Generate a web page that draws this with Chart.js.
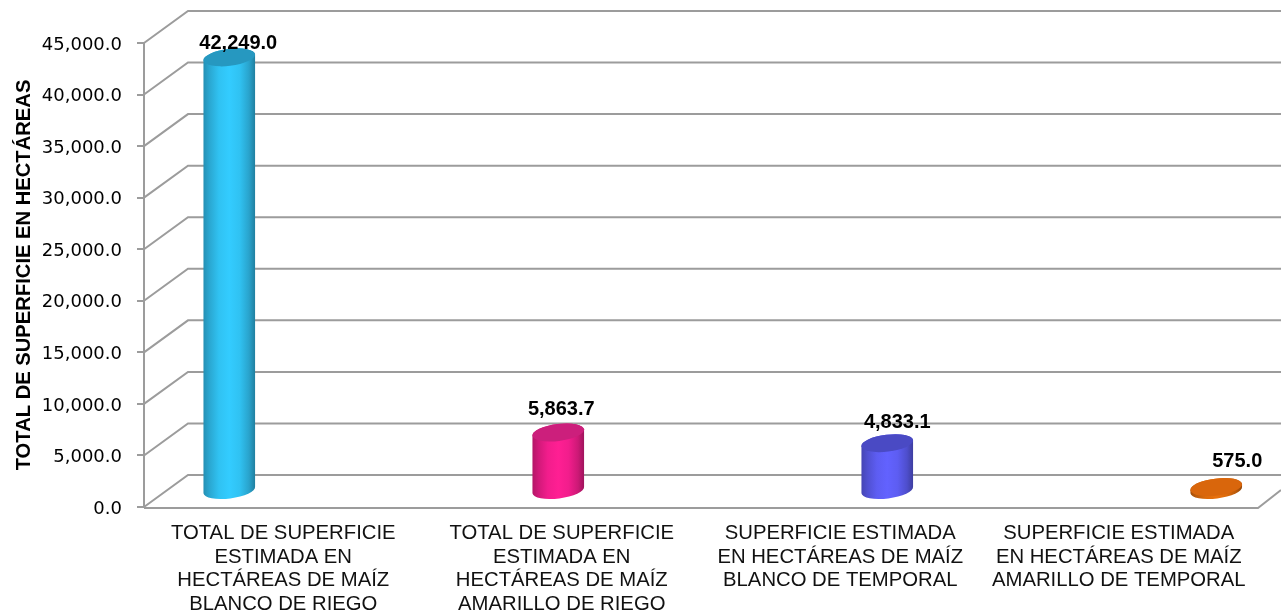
<!DOCTYPE html>
<html><head><meta charset="utf-8">
<style>html,body{margin:0;padding:0;background:#fff}#w{width:1281px;height:613px;position:relative}</style>
<script src="https://cdn.jsdelivr.net/npm/chart.js@4"></script>
</head><body><div id="w"><canvas id="c"></canvas></div>
<script>
const categories = [
  ['TOTAL DE SUPERFICIE','ESTIMADA EN','HECTÁREAS DE MAÍZ','BLANCO DE RIEGO'],
  ['TOTAL DE SUPERFICIE','ESTIMADA EN','HECTÁREAS DE MAÍZ','AMARILLO DE RIEGO'],
  ['SUPERFICIE ESTIMADA','EN HECTÁREAS DE MAÍZ','BLANCO DE TEMPORAL'],
  ['SUPERFICIE ESTIMADA','EN HECTÁREAS DE MAÍZ','AMARILLO DE TEMPORAL']
];
const hectares = [42249.0, 5863.7, 4833.1, 575.0];
const barColors = ['#33CCFF', '#FF1F93', '#6262FF', '#E8700C'];
const topColors = ['#2698C0', '#CC1F7C', '#4A4AC4', '#D9660C'];
const axisTitle = 'TOTAL DE SUPERFICIE EN HECTÁREAS';
const GRID = '#9C9C9C';
const DEPTH = {dx: 44, dy: -32, mid: -16, capDrop: 2, spread: 1.1813, spreadCenter: 581};
const fmt = v => v.toLocaleString('en-US', {minimumFractionDigits: 1, maximumFractionDigits: 1});

function shade(hex, k) {
  const n = parseInt(hex.slice(1), 16);
  const c = s => Math.round(((n >> s) & 255) * k);
  return `rgb(${c(16)},${c(8)},${c(0)})`;
}

class CylinderElement extends Chart.BarElement {
  draw(ctx) {
    const {x, y, base, width} = this.getProps(['x', 'y', 'base', 'width'], false);
    const col = this.options.backgroundColor;
    const cx = DEPTH.spreadCenter + (x - DEPTH.spreadCenter) * DEPTH.spread;
    const top = y + DEPTH.mid + DEPTH.capDrop, bot = base + DEPTH.mid;
    const rx = width / 2, ry = 8.5, rot = -7 * Math.PI / 180;
    const g = ctx.createLinearGradient(cx - rx, 0, cx + rx, 0);
    g.addColorStop(0, shade(col, 0.7));
    g.addColorStop(0.12, shade(col, 0.82));
    g.addColorStop(0.3, shade(col, 0.95));
    g.addColorStop(0.5, shade(col, 1));
    g.addColorStop(0.7, shade(col, 0.95));
    g.addColorStop(0.88, shade(col, 0.8));
    g.addColorStop(1, shade(col, 0.62));
    ctx.save();
    ctx.beginPath();
    ctx.ellipse(cx, bot, rx, ry, rot, 0, Math.PI);
    ctx.ellipse(cx, top, rx, ry, rot, Math.PI, 0);
    ctx.closePath();
    ctx.fillStyle = g;
    ctx.fill();
    ctx.beginPath();
    ctx.ellipse(cx, top, rx, ry, rot, 0, Math.PI * 2);
    ctx.fillStyle = this.options.borderColor;
    ctx.fill();
    ctx.restore();
  }
}
CylinderElement.id = 'cylinder';
CylinderElement.defaults = {};
class CylinderController extends Chart.BarController {}
CylinderController.id = 'cylinder';
CylinderController.defaults = {dataElementType: 'cylinder'};
CylinderController.overrides = Chart.BarController.overrides;
Chart.register(CylinderElement, CylinderController);

const room3d = {
  id: 'room3d',
  beforeDatasetsDraw(chart) {
    const {ctx, chartArea: a, scales: {y}} = chart;
    ctx.save();
    ctx.strokeStyle = GRID;
    ctx.lineWidth = 2;
    const W = chart.width;
    y.ticks.forEach(t => {
      const py = y.getPixelForValue(t.value);
      ctx.beginPath();
      ctx.moveTo(a.left, py);
      ctx.lineTo(a.left + DEPTH.dx, py + DEPTH.dy);
      ctx.lineTo(W, py + DEPTH.dy);
      ctx.stroke();
    });
    const y0 = y.getPixelForValue(0) + 1;
    ctx.beginPath();
    ctx.moveTo(a.left, y0);
    ctx.lineTo(a.right, y0);
    ctx.lineTo(a.right + 23, y0 - 18);
    ctx.stroke();
    ctx.restore();
  }
};

const labelPlugin = {
  id: 'valueLabels',
  afterDatasetsDraw(chart, args, opts) {
    const {ctx} = chart;
    const meta = chart.getDatasetMeta(0);
    ctx.save();
    ctx.font = 'bold 20px "Liberation Sans"';
    ctx.fillStyle = '#000';
    ctx.textAlign = 'center';
    ctx.textBaseline = 'middle';
    meta.data.forEach((el, i) => {
      const cx = DEPTH.spreadCenter + (el.x - DEPTH.spreadCenter) * DEPTH.spread;
      const o = opts.nudge[i];
      ctx.fillText(fmt(hectares[i]), cx + o[0], el.y + DEPTH.mid + o[1]);
    });
    ctx.restore();
  }
};

new Chart(document.getElementById('c'), {
  type: 'cylinder',
  data: {labels: categories, datasets: [{
    data: hectares, backgroundColor: barColors, borderColor: topColors, barThickness: 52, clip: false
  }]},
  options: {
    responsive: true, maintainAspectRatio: false, animation: false,
    layout: {padding: {top: 43, right: 23, left: 0, bottom: 0}},
    plugins: {legend: {display: false}, title: {display: false}, tooltip: {enabled: false},
      valueLabels: {nudge: [[9, -12], [3, -21], [10, -19], [21, -24]]}},
    scales: {
      x: {
        grid: {display: false}, border: {display: false},
        afterFit(s) { s.height = 106; },
        ticks: {autoSkip: false, maxRotation: 0, minRotation: 0, padding: 7, color: '#111',
          font: {family: '"Liberation Sans"', size: 20.3, lineHeight: 1.16}}
      },
      y: {
        min: 0, max: 45000,
        afterFit(s) { s.width = 144; },
        grid: {drawOnChartArea: false, drawTicks: true, tickLength: 7, color: GRID, lineWidth: 2},
        border: {display: true, color: GRID, width: 2},
        title: {display: true, text: axisTitle, color: '#000', padding: {top: 12, bottom: 0},
          font: {family: '"Liberation Sans"', size: 20.2, weight: 'bold'}},
        ticks: {stepSize: 5000, padding: 15, labelOffset: 2, color: '#000', callback: v => fmt(v),
          font: {family: '"DejaVu Sans"', size: 18}}
      }
    }
  },
  plugins: [room3d, labelPlugin]
});
</script></body></html>
